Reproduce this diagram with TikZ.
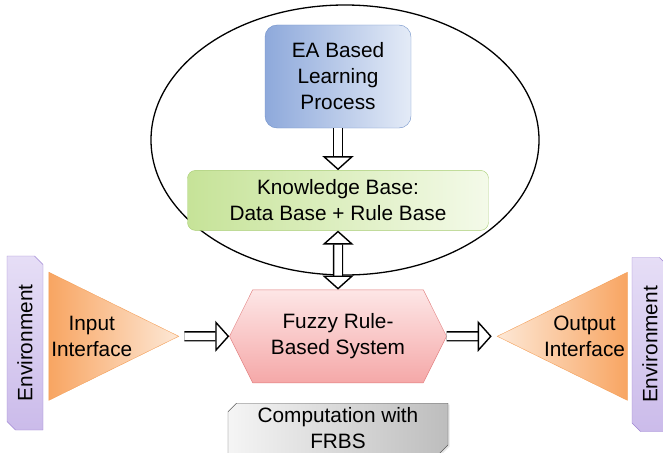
\documentclass[tikz,border=0pt]{standalone}
\usepackage{fontspec}
\setmainfont{Liberation Sans}
\usetikzlibrary{positioning,arrows.meta,shapes.geometric,shapes.misc,shapes.symbols,shadows}
\definecolor{eablue}{HTML}{8EA9DB}
\definecolor{eapale}{HTML}{E4EBF7}
\definecolor{eaedge}{HTML}{6F90C8}
\definecolor{kbgreen}{HTML}{C6E398}
\definecolor{kbpale}{HTML}{F4FAE9}
\definecolor{kbedge}{HTML}{A6CC70}
\definecolor{frbspink}{HTML}{F5A8A8}
\definecolor{frbspale}{HTML}{FDE6E6}
\definecolor{frbsedge}{HTML}{E07A7A}
\definecolor{ifaceorange}{HTML}{F8A562}
\definecolor{ifacepale}{HTML}{FDE8D6}
\definecolor{ifaceedge}{HTML}{F4A05A}
\definecolor{envlilac}{HTML}{CBBBEA}
\definecolor{envpale}{HTML}{E6DEF6}
\definecolor{envedge}{HTML}{9C82D2}
\definecolor{compgray}{HTML}{BDBDBD}
\definecolor{compedge}{HTML}{5A5A5A}
\newcommand{\diagfont}{\fontsize{20.8}{26}\selectfont}
\tikzset{
  learnbox/.style={draw=eaedge, rounded corners=12pt, align=center, left color=eablue, right color=eapale, minimum width=146pt, minimum height=103pt, font=\diagfont},
  kbbox/.style={draw=kbedge, rounded corners=8pt, align=center, left color=kbgreen, right color=kbpale, minimum width=301pt, minimum height=60pt, inner sep=2pt, font=\diagfont},
  frbsbox/.style={signal, signal to=east and west, signal pointer angle=127, draw=frbsedge, top color=frbspale, bottom color=frbspink, minimum width=217pt, minimum height=93pt, inner sep=2pt, align=center, font=\diagfont},
  compbox/.style={chamfered rectangle, chamfered rectangle corners={north west,south east}, chamfered rectangle xsep=5pt, draw=compedge, left color=gray!8, right color=compgray, minimum width=220pt, minimum height=47pt, inner sep=1pt, align=center, font=\diagfont, drop shadow={opacity=0.2, shadow xshift=1.5pt, shadow yshift=-1.5pt}},
  ifacebox/.style={isosceles triangle, isosceles triangle stretches, draw=ifaceedge, minimum width=128pt, minimum height=119pt, inner sep=0pt, align=center, font=\diagfont},
  envbox/.style={chamfered rectangle, chamfered rectangle corners={south east,north west}, chamfered rectangle xsep=5pt, rotate=90, draw=envedge, top color=envpale, bottom color=envlilac, minimum width=174pt, minimum height=36pt, inner sep=1pt, font=\diagfont},
  bigarrow/.style={double=white, double distance=7.5pt, line width=1.4pt, -{Triangle[length=14pt, width=31pt, fill=white, line width=1.4pt]}},
  bigtwoway/.style={double=white, double distance=7.5pt, line width=1.4pt, {Triangle[length=14pt, width=31pt, fill=white, line width=1.4pt]}-{Triangle[length=14pt, width=31pt, fill=white, line width=1.4pt]}}
}
\begin{document}
\begin{tikzpicture}[x=1pt, y=-1pt]
  \useasboundingbox (0,0) rectangle (663,452);
  \node[draw, line width=1.3pt, ellipse, minimum width=388pt, minimum height=270pt] (loop) at (345,140) {};
  \node[learnbox] (ea) at (338,76.5) {EA Based\\Learning\\Process};
  \node[kbbox, below=42pt of ea] (kb) {Knowledge Base:\\Data Base + Rule Base};
  \node[frbsbox, below=59pt of kb] (frbs) {Fuzzy Rule-\\Based System};
  \node[compbox, below=20pt of frbs] (comp) {Computation with\\FRBS};
  \node[ifacebox, left=50pt of frbs, left color=ifaceorange, right color=ifacepale] (in) {Input\\Interface};
  \node[ifacebox, right=50pt of frbs, shape border rotate=180, left color=ifacepale, right color=ifaceorange] (out) {Output\\Interface};
  \node[envbox] (envin) at (25,343) {Environment};
  \node[envbox] (envout) at (650,344.5) {Environment};
  \draw[bigarrow] (ea) -- (kb);
  \draw[bigtwoway] (kb) -- (frbs);
  \draw[bigarrow, shorten <=5pt] (in) -- (frbs);
  \draw[bigarrow, shorten >=5pt] (frbs) -- (out);
\end{tikzpicture}
\end{document}
